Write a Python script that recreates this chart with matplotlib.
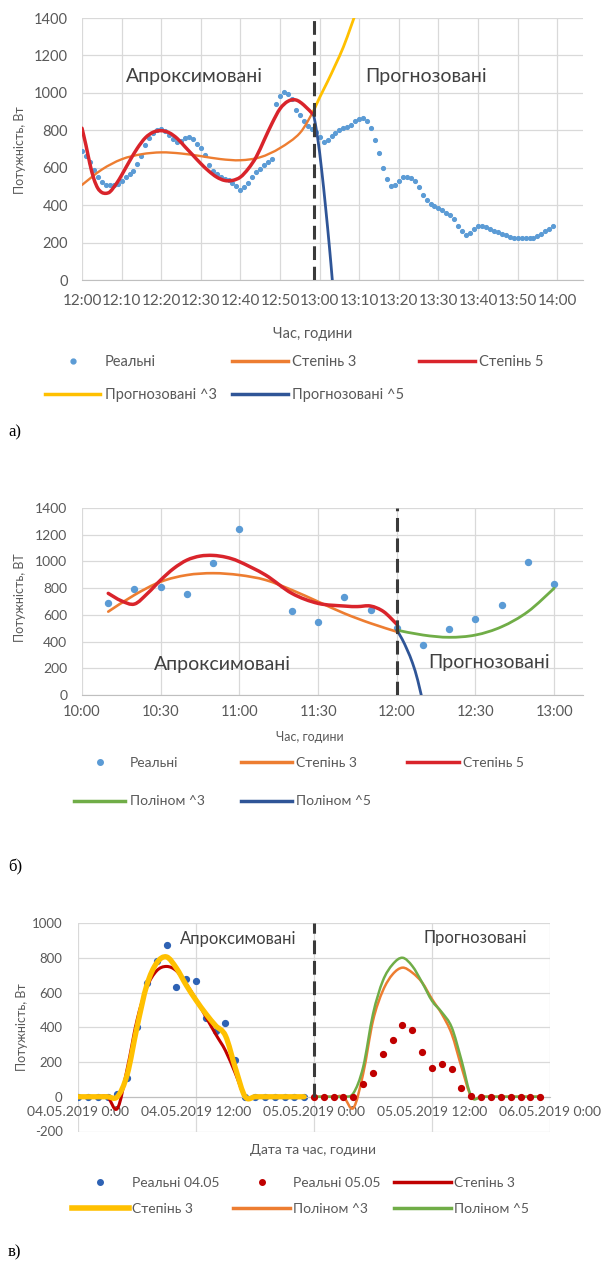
import numpy as np
import matplotlib.pyplot as plt
from matplotlib.path import Path
from matplotlib.patches import PathPatch
from matplotlib.lines import Line2D

plt.rcParams['font.family'] = ['Lato', 'DejaVu Sans']
plt.rcParams['axes.unicode_minus'] = False

W, H = 604, 1275

# ---------------- panel a: minutes from 12:00 ----------------
real_a = [690, 660, 630, 590, 550, 525, 510, 505, 505, 515,
          530, 550, 565, 580, 620, 665, 720, 760, 785, 800,
          805, 795, 775, 755, 740, 742, 757, 766, 752, 725,
          705, 667, 612, 580, 565, 552, 542, 535, 520, 500,
          480, 495, 520, 550, 575, 595, 612, 630, 645, 940,
          985, 1005, 995, 965, 910, 880, 850, 825, 805, 790,
          766, 740, 750, 770, 784, 800, 810, 815, 830, 847,
          860, 865, 850, 810, 750, 680, 600, 540, 500, 505,
          530, 550, 552, 545, 530, 495, 455, 425, 405, 395,
          385, 372, 360, 345, 325, 290, 262, 238, 250, 272,
          288, 290, 284, 274, 262, 254, 246, 238, 232, 226,
          222, 222, 222, 223, 227, 235, 248, 262, 275, 288]
real_a_t = list(range(len(real_a)))

fit3_a_t = [0, 5, 10, 15, 20, 25, 30, 35, 40, 45, 50, 55, 58.5]
fit3_a = [508, 590, 645, 672, 682, 676, 662, 646, 640, 656, 705, 785, 905]

fit5_a_t = [0, 1, 2, 3, 4, 5, 6, 7, 8, 9, 10, 12, 14, 16, 18, 20, 22, 24, 26, 28,
            30, 32, 34, 36, 38, 40, 42, 44, 46, 48, 50, 52, 54, 56, 58.5]
fit5_a = [811, 720, 620, 540, 490, 468, 463, 470, 495, 525, 560, 635, 705, 760, 790, 798,
          787, 757, 712, 667, 622, 582, 550, 532, 532, 550, 595, 658, 748, 838, 915, 955,
          962, 935, 882]

pred3_a_t = [58.5, 60, 62, 64, 66, 68, 70]
pred3_a = [905, 975, 1060, 1150, 1245, 1360, 1480]

pred5_a_t = [58.5, 59.5, 60.5, 61.5, 62.5, 63.2, 64]
pred5_a = [882, 760, 590, 390, 170, 0, -200]

ticks_a = [0, 10, 20, 30, 40, 50, 60, 70, 80, 90, 100, 110, 120]
labels_a = ['12:00', '12:10', '12:20', '12:30', '12:40', '12:50', '13:00',
            '13:10', '13:20', '13:30', '13:40', '13:50', '14:00']
split_a = 58.5

# ---------------- panel b: minutes from 10:00 ----------------
real_b_t = [10, 20, 30, 40, 50, 60, 80, 90, 100, 110, 120, 130, 140, 150, 160, 170, 180]
real_b = [691, 791, 806, 754, 986, 1240, 631, 549, 731, 636, 500, 374, 494, 566, 674, 998, 831]

fit3_b_t = [10, 20, 30, 40, 50, 60, 70, 80, 90, 100, 110, 120]
fit3_b = [624, 749, 848, 898, 912, 898, 861, 786, 699, 611, 537, 474]

fit5_b_t = [10, 15, 20, 25, 30, 35, 40, 45, 50, 55, 60, 70, 80, 90, 100, 105, 110, 115, 120]
fit5_b = [761, 705, 681, 761, 861, 948, 1010, 1040, 1045, 1031, 998, 898, 761, 686, 666,
          662, 666, 624, 530]

pred3_b_t = [120, 130, 140, 150, 160, 170, 180]
pred3_b = [486, 449, 432, 449, 511, 624, 799]

pred5_b_t = [120, 122, 124, 126, 128, 130]
pred5_b = [486, 420, 337, 240, 110, -60]

ticks_b = [0, 30, 60, 90, 120, 150, 180]
labels_b = ['10:00', '10:30', '11:00', '11:30', '12:00', '12:30', '13:00']
split_b = 120

# ---------------- panel c: hours from 04.05.2019 0:00 ----------------
hours1 = list(range(0, 24))
hours2 = list(range(24, 48))
real_c1 = [0, 0, 0, 0, 15, 107, 400, 653, 780, 871, 634, 680,
           669, 454, 380, 423, 210, 0, 0, 0, 0, 0, 0, 0]
real_c2 = [0, 0, 0, 0, 0, 75, 136, 247, 328, 415, 386, 255,
           168, 190, 157, 52, 3, 0, 0, 0, 0, 0, 0, 0]
deg3_red = [0, 0, 0, 0, -68, 160, 440, 630, 725, 750, 725, 650,
            560, 460, 360, 265, 135, 0, 0, 0, 0, 0, 0, 0]
deg3_yel = [0, 0, 0, 0, 0, 127, 400, 643, 770, 805, 741, 643,
            556, 478, 409, 351, 166, 0, 0, 0, 0, 0, 0, 0]
poly3_c = [0, 0, 0, 0, -65, 133, 438, 610, 705, 743, 714, 657,
           562, 476, 362, 171, 0, 0, 0, 0, 0, 0, 0, 0]
poly5_c = [0, 0, 0, 0, 20, 171, 476, 667, 762, 800, 752, 657,
           552, 486, 400, 210, 0, 0, 0, 0, 0, 0, 0, 0]

ticks_c = [0, 12, 24, 36, 48]
labels_c = ['04.05.2019 0:00', '04.05.2019 12:00', '05.05.2019 0:00',
            '05.05.2019 12:00', '06.05.2019 0:00']
split_c = 24

C_BLUE = '#5B9BD5'
C_ORANGE = '#ED7D31'
C_RED = '#D9242B'
C_DRED = '#C00000'
C_YEL = '#FFC000'
C_NAVY = '#2F5597'
C_GREEN = '#70AD47'
C_TXT = '#595959'


def smooth(ax, x, y, color, lw, z=3):
    # Excel-like smoothed line through the given points
    pts = np.column_stack([x, y]).astype(float)
    n = len(pts)
    verts = [pts[0]]
    codes = [Path.MOVETO]
    for i in range(n - 1):
        p0 = pts[max(i - 1, 0)]
        p1 = pts[i]
        p2 = pts[i + 1]
        p3 = pts[min(i + 2, n - 1)]
        verts += [p1 + (p2 - p0) / 6, p2 - (p3 - p1) / 6, p2]
        codes += [Path.CURVE4] * 3
    ax.add_patch(PathPatch(Path(verts, codes), fill=False, edgecolor=color, lw=lw,
                           zorder=z, capstyle='round', joinstyle='round'))


def axes_px(left, top, right, bottom):
    return fig.add_axes([left / W, 1 - bottom / H, (right - left) / W, (bottom - top) / H])


def style(ax, xlim, ylim, yticks, xticks, xlabels, xfs, yfs, xpad, ypad):
    ax.set_xlim(xlim)
    ax.set_ylim(ylim)
    ax.set_yticks(yticks)
    ax.set_xticks(xticks)
    ax.set_xticklabels(xlabels)
    ax.grid(True, color='#d9d9d9', lw=0.9)
    ax.set_axisbelow(True)
    for s in ['top', 'right', 'left']:
        ax.spines[s].set_visible(False)
    ax.spines['bottom'].set_color('#bfbfbf')
    ax.tick_params(length=0, colors=C_TXT)
    ax.tick_params(axis='x', pad=xpad, labelsize=xfs)
    ax.tick_params(axis='y', pad=ypad, labelsize=yfs)


def split_line(ax, x, y0, y1):
    ax.plot([x, x], [y0, y1], color='#3a3a3a', lw=2.2, ls=(0, (4.5, 2.2)), zorder=6)


def dot(color, ms):
    return Line2D([], [], ls='none', marker='o', ms=ms, color=color)


def seg(color, lw):
    return Line2D([], [], color=color, lw=lw)


fig = plt.figure(figsize=(W / 100, H / 100), dpi=100)

# ---------- a ----------
ax = axes_px(82, 18, 583, 280)
style(ax, (0, 126.5), (0, 1400), range(0, 1401, 200), ticks_a, labels_a, 11, 10.5, 10, 10)
ax.plot(real_a_t, real_a, ls='none', marker='o', ms=2.7, color=C_BLUE, zorder=2)
smooth(ax, fit3_a_t, fit3_a, C_ORANGE, 1.7, 3)
smooth(ax, fit5_a_t, fit5_a, C_RED, 2.5, 4)
smooth(ax, pred3_a_t, pred3_a, C_YEL, 2.0, 4)
smooth(ax, pred5_a_t, pred5_a, C_NAVY, 2.0, 4)
split_line(ax, split_a, 0, 1400)
ax.text(28.5, 1085, 'Апроксимовані', ha='center', va='center', fontsize=14, color='#404040')
ax.text(87, 1085, 'Прогнозовані', ha='center', va='center', fontsize=14, color='#404040')
fig.text(20 / W, 1 - 150 / H, 'Потужність, Вт', rotation=90, ha='center', va='center',
         fontsize=9, color=C_TXT)
fig.text(313 / W, 1 - 334 / H, 'Час, години', ha='center', va='center', fontsize=10.5, color=C_TXT)
fig.legend(handles=[dot(C_BLUE, 3.5), seg(C_YEL, 2.5), seg(C_ORANGE, 2.5), seg(C_NAVY, 2.5),
                    seg(C_RED, 2.5)],
           labels=['Реальні', 'Прогнозовані ^3', 'Степінь 3', 'Прогнозовані ^5', 'Степінь 5'],
           loc='upper left', bbox_to_anchor=(45 / W, 1 - 355 / H), ncol=3, frameon=False,
           fontsize=10.5, handlelength=3.8, handletextpad=0.3, columnspacing=1.05,
           labelspacing=1.3, borderpad=0, borderaxespad=0, labelcolor=C_TXT)
fig.text(8 / W, 1 - 432 / H, 'а)', ha='left', va='center', fontsize=12,
         family='Liberation Serif')

# ---------- б ----------
ax = axes_px(82, 508, 583, 695)
style(ax, (0, 191), (0, 1400), range(0, 1401, 200), ticks_b, labels_b, 10.5, 10, 7, 10.5)
ax.plot(real_b_t, real_b, ls='none', marker='o', ms=4.3, color=C_BLUE, zorder=2)
smooth(ax, fit3_b_t, fit3_b, C_ORANGE, 1.9, 3)
smooth(ax, fit5_b_t, fit5_b, C_RED, 2.5, 4)
smooth(ax, pred3_b_t, pred3_b, C_GREEN, 2.0, 4)
smooth(ax, pred5_b_t, pred5_b, C_NAVY, 2.0, 4)
split_line(ax, split_b, 0, 1400)
ax.text(53.5, 225, 'Апроксимовані', ha='center', va='center', fontsize=14, color='#404040')
ax.text(155, 240, 'Прогнозовані', ha='center', va='center', fontsize=14, color='#404040')
fig.text(20 / W, 1 - 598 / H, 'Потужність, ВТ', rotation=90, ha='center', va='center',
         fontsize=9, color=C_TXT)
fig.text(310 / W, 1 - 737 / H, 'Час, години', ha='center', va='center', fontsize=9, color=C_TXT)
fig.legend(handles=[dot(C_BLUE, 4), seg(C_GREEN, 2.5), seg(C_ORANGE, 2.5), seg(C_NAVY, 2.5),
                    seg(C_RED, 2.5)],
           labels=['Реальні', 'Поліном ^3', 'Степінь 3', 'Поліном ^5', 'Степінь 5'],
           loc='upper left', bbox_to_anchor=(74 / W, 1 - 757 / H), ncol=3, frameon=False,
           fontsize=10, handlelength=3.7, handletextpad=0.3, columnspacing=2.6,
           labelspacing=1.9, borderpad=0, borderaxespad=0, labelcolor=C_TXT)
fig.text(8 / W, 1 - 867 / H, 'б)', ha='left', va='center', fontsize=12,
         family='Liberation Serif')

# ---------- в ----------
ax = axes_px(78, 923, 550, 1131.5)
style(ax, (0, 48), (-200, 1000), range(-200, 1001, 200), ticks_c, labels_c, 10, 9.5, 6.5, 11)
ax.spines['bottom'].set_position(('data', 0))
ax.plot(hours1, real_c1, ls='none', marker='o', ms=4.2, color='#2E62B4', zorder=2)
ax.plot(hours2, real_c2, ls='none', marker='o', ms=4.2, color=C_DRED, zorder=5)
smooth(ax, hours1, deg3_red, C_DRED, 2.2, 3)
smooth(ax, hours1, deg3_yel, C_YEL, 3.8, 4)
smooth(ax, hours2, poly3_c, C_ORANGE, 1.8, 3)
smooth(ax, hours2, poly5_c, C_GREEN, 1.8, 4)
split_line(ax, split_c, 0, 1000)
ax.text(16.3, 910, 'Апроксимовані', ha='center', va='center', fontsize=12, color='#404040')
ax.text(40.4, 915, 'Прогнозовані', ha='center', va='center', fontsize=12, color='#404040')
fig.text(22 / W, 1 - 1027 / H, 'Потужність, Вт', rotation=90, ha='center', va='center',
         fontsize=9, color=C_TXT)
fig.text(313 / W, 1 - 1150 / H, 'Дата та час, години', ha='center', va='center',
         fontsize=10, color=C_TXT)
fig.legend(handles=[dot('#2E62B4', 4), seg(C_YEL, 4), dot(C_DRED, 4), seg(C_ORANGE, 2.5),
                    seg(C_DRED, 2.5), seg(C_GREEN, 2.5)],
           labels=['Реальні 04.05', 'Степінь 3', 'Реальні 05.05', 'Поліном ^3',
                   'Степінь 3', 'Поліном ^5'],
           loc='upper left', bbox_to_anchor=(72 / W, 1 - 1177 / H), ncol=3, frameon=False,
           fontsize=10, handlelength=4.1, handletextpad=0.2, columnspacing=1.0,
           labelspacing=1.0, borderpad=0, borderaxespad=0, labelcolor=C_TXT)
fig.text(8 / W, 1 - 1252 / H, 'в)', ha='left', va='center', fontsize=12,
         family='Liberation Serif')

fig.savefig('out.png', dpi=100)
